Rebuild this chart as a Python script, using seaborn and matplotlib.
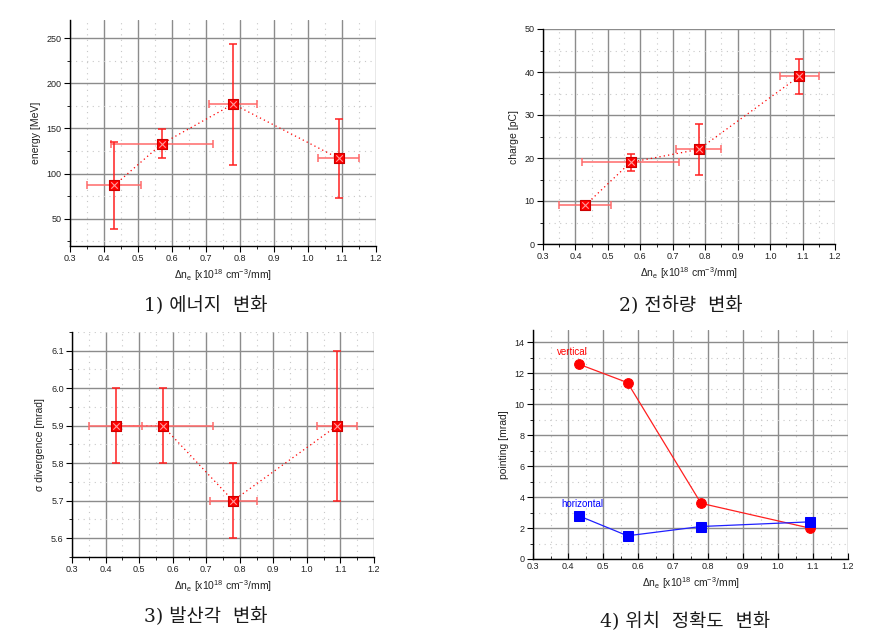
import numpy as np
import pandas as pd
import matplotlib
matplotlib.use("Agg")
import matplotlib.pyplot as plt
import seaborn as sns
from matplotlib.ticker import MultipleLocator

# ---------------- data ----------------
dn = [0.43, 0.57, 0.78, 1.09]
dn_err = [0.08, 0.15, 0.07, 0.06]

energy = [87, 133, 177, 117]
energy_err = [48.5, 16, 67, 44]

charge = [9, 19, 22, 39]
charge_err = [1.0, 2, 6, 4]

divergence = [5.9, 5.9, 5.7, 5.9]
divergence_err = [0.1, 0.1, 0.1, 0.2]

pointing_vertical = [12.6, 11.4, 3.6, 2.0]
pointing_horizontal = [2.8, 1.5, 2.1, 2.4]

captions = ["1) 에너지  변화", "2) 전하량  변화", "3) 발산각  변화", "4) 위치  정확도  변화"]
ylabels = ["energy [MeV]", "charge [pC]", "σ divergence [mrad]", "pointing [mrad]"]
xlabel = r"$\Delta$n$_e$ [x10$^{18}$ cm$^{-3}$/mm]"

# ---------------- style ----------------
sns.set_theme(style="white")
plt.rcParams['font.family'] = ['Liberation Sans', 'DejaVu Sans']
plt.rcParams['mathtext.fontset'] = 'custom'
plt.rcParams['mathtext.rm'] = 'Liberation Sans'
plt.rcParams['mathtext.it'] = 'Liberation Sans'

W, H = 877, 638
fig = plt.figure(figsize=(W / 100, H / 100), dpi=100)
fig.patch.set_facecolor("white")


def px_axes(l, t, r, b):
    return fig.add_axes([l / W, 1 - b / H, (r - l) / W, (b - t) / H])


def style_axes(ax, xlim, ylim, ymaj, ymin, ylabel, xin=False):
    ax.set_xlim(*xlim)
    ax.set_ylim(*ylim)
    ax.xaxis.set_major_locator(MultipleLocator(0.1))
    ax.xaxis.set_minor_locator(MultipleLocator(0.05))
    ax.yaxis.set_major_locator(MultipleLocator(ymaj))
    ax.yaxis.set_minor_locator(MultipleLocator(ymin))
    ax.grid(which="major", color="#8c8c8c", lw=1.0, ls="-")
    ax.grid(which="minor", color="#c8c8c8", lw=0.8, ls=(0, (1, 4)))
    ax.set_axisbelow(True)
    for s in ["top", "right"]:
        ax.spines[s].set_visible(False)
    for s in ["left", "bottom"]:
        ax.spines[s].set_color("black")
        ax.spines[s].set_linewidth(1.0)
    ax.tick_params(axis="both", which="major", labelsize=6.5, length=4, width=0.8,
                   color="black", labelcolor="#222222", pad=2)
    ax.tick_params(axis="both", which="minor", length=2, width=0.6, color="black")
    ax.tick_params(axis="x", which="both", direction="in" if xin else "out")
    ax.tick_params(axis="y", which="both", direction="out")
    ax.tick_params(left=True, bottom=True, which="both")
    ax.xaxis.set_major_formatter(matplotlib.ticker.FormatStrFormatter("%.1f"))
    ax.set_xlabel(xlabel, fontsize=7.5, color="#222222", labelpad=3)
    ax.set_ylabel(ylabel, fontsize=7.5, color="#222222", labelpad=4)


def err_panel(ax, yvals, yerrs):
    df = pd.DataFrame({"x": dn, "y": yvals})
    sns.lineplot(data=df, x="x", y="y", ax=ax, color="red", lw=0.9,
                 ls=(0, (1, 2.5)), sort=False, legend=False)
    ax.errorbar(dn, yvals, xerr=dn_err, fmt="none", ecolor="#ff6a6a",
                elinewidth=1.1, capsize=3, capthick=1.1, zorder=3)
    ax.errorbar(dn, yvals, yerr=yerrs, fmt="none", ecolor="#ff2020",
                elinewidth=1.1, capsize=3, capthick=1.1, zorder=3)
    sns.scatterplot(data=df, x="x", y="y", ax=ax, marker="s", s=55,
                    color="#ff0000", edgecolor="#cc0000", linewidth=0.8, zorder=4,
                    legend=False)
    sns.scatterplot(data=df, x="x", y="y", ax=ax, marker="x", s=22,
                    color="#ff9a9a", linewidth=0.8, zorder=5, legend=False)


# Panel 1
ax1 = px_axes(70, 20, 376, 246)
err_panel(ax1, energy, energy_err)
style_axes(ax1, (0.3, 1.2), (20, 270), 50, 25, ylabels[0])

# Panel 2
ax2 = px_axes(543, 29, 835, 244)
err_panel(ax2, charge, charge_err)
style_axes(ax2, (0.3, 1.2), (0, 50), 10, 5, ylabels[1])

# Panel 3
ax3 = px_axes(72, 332, 374, 557)
err_panel(ax3, divergence, divergence_err)
style_axes(ax3, (0.3, 1.2), (5.55, 6.15), 0.1, 0.05, ylabels[2])

# Panel 4
ax4 = px_axes(533, 330, 848, 559)
dfv = pd.DataFrame({"x": dn, "y": pointing_vertical})
dfh = pd.DataFrame({"x": dn, "y": pointing_horizontal})
sns.lineplot(data=dfv, x="x", y="y", ax=ax4, color="#ff2020", lw=0.9, sort=False,
             marker="o", markersize=7, markeredgecolor="#ff0000",
             markerfacecolor="#ff0000", legend=False)
sns.lineplot(data=dfh, x="x", y="y", ax=ax4, color="#2020ff", lw=0.9, sort=False,
             marker="s", markersize=7, markeredgecolor="#0000ff",
             markerfacecolor="#0000ff", legend=False)
style_axes(ax4, (0.3, 1.2), (0, 14.8), 2, 1, ylabels[3], xin=True)
ax4.yaxis.set_major_formatter(matplotlib.ticker.FormatStrFormatter("%d"))
ax4.text(0.369, 13.37, "vertical", color="#ff0000", fontsize=7, va="center", ha="left")
ax4.text(0.38, 3.58, "horizontal", color="#0000ff", fontsize=7, va="center", ha="left")

ax1.yaxis.set_major_formatter(matplotlib.ticker.FormatStrFormatter("%d"))
ax2.yaxis.set_major_formatter(matplotlib.ticker.FormatStrFormatter("%d"))
ax3.yaxis.set_major_formatter(matplotlib.ticker.FormatStrFormatter("%.1f"))

# captions
cap_pos = [(206, 306), (681, 306), (206, 617), (685, 622)]
for (cx, cy), c in zip(cap_pos, captions):
    fig.text(cx / W, 1 - cy / H, c, ha="center", va="center", fontsize=13.5,
             color="#1a1a1a", family=["DejaVu Serif", "Noto Sans CJK KR"])

fig.savefig("out.png", dpi=100, facecolor="white")
